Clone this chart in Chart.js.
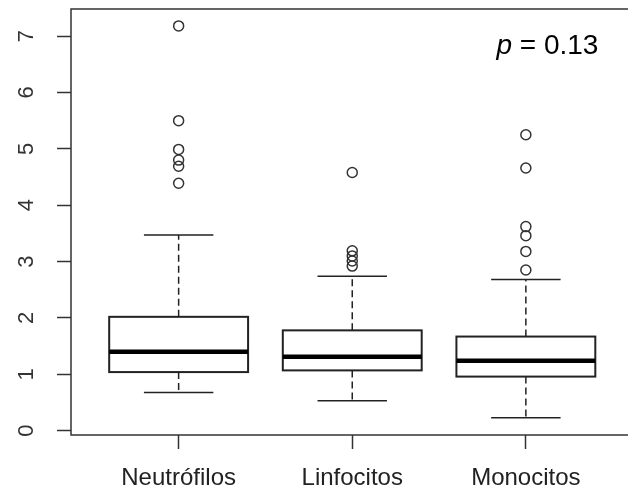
<!DOCTYPE html>
<html>
<head>
<meta charset="utf-8">
<script src="https://cdn.jsdelivr.net/npm/chart.js@4"></script>
<style>
  body { margin: 0; overflow: hidden; background: #fff; }
  #wrap { width: 640px; height: 492px; }
</style>
</head>
<body>
<div id="wrap"><canvas id="myChart"></canvas></div>
<script>
// datos
const categorias = ["Neutrófilos", "Linfocitos", "Monocitos"];
const bigoteInf = [0.68, 0.53, 0.23];
const q1 = [1.04, 1.07, 0.96];
const mediana = [1.40, 1.31, 1.24];
const q3 = [2.02, 1.78, 1.67];
const bigoteSup = [3.47, 2.74, 2.68];
const atipicosNeu = [7.18, 5.50, 4.99, 4.80, 4.69, 4.39];
const atipicosLin = [4.58, 3.19, 3.10, 3.01, 2.92];
const atipicosMon = [5.25, 4.66, 3.62, 3.46, 3.18, 2.85];
const yTicks = [0, 1, 2, 3, 4, 5, 6, 7];
const textoP = "0.13";

const atipicos = [];
[atipicosNeu, atipicosLin, atipicosMon].forEach((lista, i) => {
	lista.forEach(v => atipicos.push({ x: i + 1, y: v }));
});

const FUENTE = "'Liberation Sans', Arial, sans-serif";

// dibuja cajas, bigotes, marco y textos
const cajasPlugin = {
	id: "cajas",
	afterDatasetsDraw(chart) {
		const c = chart.ctx;
		const xs = chart.scales.x, ys = chart.scales.y;
		const a = chart.chartArea;
		c.save();
		for (let i = 0; i < categorias.length; i++) {
			const xc = xs.getPixelForValue(i + 1);
			const xl = xs.getPixelForValue(i + 1 - 0.4);
			const xr = xs.getPixelForValue(i + 1 + 0.4);
			const cl = xs.getPixelForValue(i + 1 - 0.2);
			const cr = xs.getPixelForValue(i + 1 + 0.2);
			const yLo = ys.getPixelForValue(bigoteInf[i]);
			const yQ1 = ys.getPixelForValue(q1[i]);
			const yMed = ys.getPixelForValue(mediana[i]);
			const yQ3 = ys.getPixelForValue(q3[i]);
			const yHi = ys.getPixelForValue(bigoteSup[i]);
			// bigotes punteados
			c.strokeStyle = "#222";
			c.lineWidth = 1.5;
			c.setLineDash([7, 4]);
			c.beginPath();
			c.moveTo(xc, yQ3); c.lineTo(xc, yHi);
			c.moveTo(xc, yQ1); c.lineTo(xc, yLo);
			c.stroke();
			c.setLineDash([]);
			// topes
			c.beginPath();
			c.moveTo(cl, yHi); c.lineTo(cr, yHi);
			c.moveTo(cl, yLo); c.lineTo(cr, yLo);
			c.stroke();
			// caja
			c.lineWidth = 2;
			c.strokeRect(xl, yQ3, xr - xl, yQ1 - yQ3);
			// mediana
			c.strokeStyle = "#000";
			c.lineWidth = 4.5;
			c.beginPath();
			c.moveTo(xl, yMed); c.lineTo(xr, yMed);
			c.stroke();
		}
		// marco
		c.strokeStyle = "#333";
		c.lineWidth = 1.5;
		c.strokeRect(a.left, a.top, a.right - a.left, a.bottom - a.top);
		// etiquetas del eje y giradas
		c.fillStyle = "#333";
		c.font = "22px " + FUENTE;
		c.textAlign = "center";
		c.textBaseline = "middle";
		yTicks.forEach(t => {
			c.save();
			c.translate(27, ys.getPixelForValue(t));
			c.rotate(-Math.PI / 2);
			c.fillText(String(t), 0, 0);
			c.restore();
		});
		// valor p
		const px = xs.getPixelForValue(3.418);
		const py = ys.getPixelForValue(6.69);
		c.fillStyle = "#000";
		c.textAlign = "right";
		c.textBaseline = "alphabetic";
		c.font = "28px " + FUENTE;
		const resto = " = " + textoP;
		const w = c.measureText(resto).width;
		c.fillText(resto, px, py);
		c.font = "italic 28px " + FUENTE;
		c.fillText("p", px - w, py);
		c.restore();
	}
};

const ctx = document.getElementById("myChart").getContext("2d");
let myChart = new Chart(ctx, {
	type: "scatter",
	data: {
		datasets: [
			{
				label: "atipicos",
				data: atipicos,
				pointStyle: "circle",
				pointRadius: 5,
				pointBorderWidth: 1.5,
				borderColor: "#333",
				backgroundColor: "rgba(0,0,0,0)",
			},
		],
	},
	options: {
		responsive: true,
		maintainAspectRatio: false,
		animation: false,
		layout: { padding: { left: 0, top: 9, right: 4, bottom: 0 } },
		plugins: { legend: { display: false }, tooltip: { enabled: false } },
		scales: {
			x: {
				type: "linear",
				min: 0.38,
				max: 3.62,
				afterBuildTicks: (s) => { s.ticks = categorias.map((_, i) => ({ value: i + 1 })); },
				afterFit: (s) => { s.height = 57; },
				ticks: {
					callback: (v) => categorias[v - 1],
					font: { family: FUENTE, size: 24 },
					color: "#222",
					padding: 15,
					maxRotation: 0,
				},
				grid: { drawOnChartArea: false, drawTicks: true, tickLength: 14, tickWidth: 1.5, tickColor: "#333" },
				border: { display: false },
			},
			y: {
				min: -0.076,
				max: 7.48,
				afterBuildTicks: (s) => { s.ticks = yTicks.map(v => ({ value: v })); },
				afterFit: (s) => { s.width = 71; },
				ticks: { display: false },
				grid: { drawOnChartArea: false, drawTicks: true, tickLength: 14, tickWidth: 1.5, tickColor: "#333" },
				border: { display: false },
			},
		},
	},
	plugins: [cajasPlugin],
});
</script>
</body>
</html>
